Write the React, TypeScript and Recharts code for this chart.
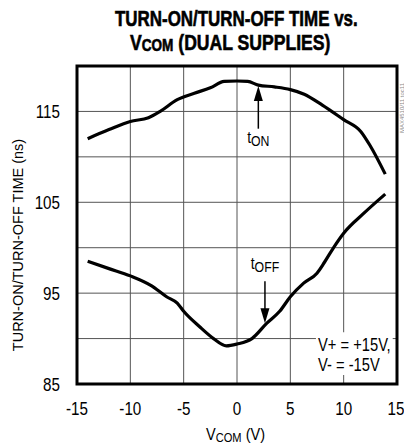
import React from 'react';
import {
  LineChart, Line, XAxis, YAxis, CartesianGrid, ReferenceArea, ReferenceLine, ReferenceDot, Customized,
} from 'recharts';

const tonX = [-14, -12, -10, -8.3, -7.2, -5.6, -4, -2.5, -1.2, 0, 1, 2, 3.5, 5, 6.3, 8, 10, 11.6, 12.5, 13.9];
const tonY = [112.0, 113.0, 113.9, 114.3, 115.0, 116.3, 117.0, 117.6, 118.3, 118.35, 118.3, 117.9, 117.7, 117.4, 116.9, 115.7, 114.1, 112.8, 111.2, 108.1];
const toffX = [-14, -12, -10, -8, -6.6, -5.6, -5, -3.5, -2.2, -1, 0, 1.4, 2.8, 4, 5, 6.25, 7.5, 8.2, 9.1, 10, 11.9, 13.9];
const toffY = [98.5, 97.7, 96.9, 95.8, 94.6, 93.9, 93.0, 91.3, 90.0, 89.2, 89.4, 90.0, 91.7, 93.0, 94.6, 96.1, 97.2, 98.4, 100.1, 101.6, 103.8, 105.9];

const xTicks = [-15, -10, -5, 0, 5, 10, 15];
const yTicks = [85, 90, 95, 100, 105, 110, 115, 120];
const yLabeled = [85, 95, 105, 115];

const tonData = tonX.map((x, i) => ({ x, y: tonY[i] }));
const toffData = toffX.map((x, i) => ({ x, y: toffY[i] }));

const FONT = '"Liberation Sans", Arial, sans-serif';

const XTick = (props: any) => {
  const { x, y, payload } = props;
  return (
    <g transform={`translate(${x},${y})`}>
      <text transform="scale(0.8,1)" textAnchor="middle" dy="0.71em" fontFamily={FONT} fontSize={19} fill="#000">
        {payload.value}
      </text>
    </g>
  );
};
const YTick = (props: any) => {
  const { x, y, payload } = props;
  if (!yLabeled.includes(payload.value)) return null;
  return (
    <g transform={`translate(${x},${y})`}>
      <text transform="scale(0.8,1)" textAnchor="end" dy="0.355em" fontFamily={FONT} fontSize={19} fill="#000">
        {payload.value}
      </text>
    </g>
  );
};

const ArrowDown = (props: any) => {
  const { cx, cy } = props;
  if (cx == null || cy == null) return null;
  return <path d={`M${cx},${cy} L${cx - 4.5},${cy - 15} L${cx + 4.5},${cy - 15} Z`} fill="#000" />;
};
const ArrowUp = (props: any) => {
  const { cx, cy } = props;
  if (cx == null || cy == null) return null;
  return <path d={`M${cx},${cy} L${cx - 4.5},${cy + 15} L${cx + 4.5},${cy + 15} Z`} fill="#000" />;
};
const SubLabel = (main: string, sub: string) => (props: any) => {
  const { cx, cy } = props;
  if (cx == null || cy == null) return null;
  return (
    <g transform={`translate(${cx},${cy})`}>
      <text transform="scale(0.82,1)" textAnchor="middle" fontFamily={FONT} fontSize={17} fill="#000">
        <tspan>{main}</tspan>
        <tspan fontSize={15} dy={3}>{sub}</tspan>
      </text>
    </g>
  );
};
const SupplyText = (props: any) => {
  const { cx, cy } = props;
  if (cx == null || cy == null) return null;
  return (
    <g transform={`translate(${cx},${cy})`}>
      <text transform="scale(0.84,1)" fontFamily={FONT} fontSize={17.5} fill="#000">
        <tspan x={0}>V+ = +15V,</tspan>
        <tspan x={0} dy={20}>V- = -15V</tspan>
      </text>
    </g>
  );
};

const Decor = () => (
  <g>
    <g transform="translate(115,26) scale(0.77,1)">
      <text x={0} y={0} fontFamily={FONT} fontWeight="bold" fontSize={22} fill="#000" stroke="#000" strokeWidth={0.6}>
        TURN-ON/TURN-OFF TIME vs.
      </text>
    </g>
    <g transform="translate(130,50) scale(0.8,1)">
      <text x={0} y={0} fontFamily={FONT} fontWeight="bold" fontSize={22} fill="#000" stroke="#000" strokeWidth={0.6}>
        <tspan>V</tspan>
        <tspan fontSize={17} dy={1}>COM</tspan>
        <tspan dy={-1}> (DUAL SUPPLIES)</tspan>
      </text>
    </g>
    <text x={18} y={245} transform="rotate(-90 18 245)" textAnchor="middle" dominantBaseline="central" fontFamily={FONT} fontSize={14.5} fill="#000">
      TURN-ON/TURN-OFF TIME (ns)
    </text>
    <g transform="translate(206,440) scale(0.855,1)">
      <text x={0} y={0} fontFamily={FONT} fontSize={17} fill="#000">
        <tspan>V</tspan>
        <tspan fontSize={13} dy={2}>COM</tspan>
        <tspan dy={-2}> (V)</tspan>
      </text>
    </g>
    <text x={402} y={108} transform="rotate(-90 402 108)" textAnchor="middle" dominantBaseline="central" fontFamily={FONT} fontSize={6} fill="#888">
      MAX4510/11 toc11
    </text>
  </g>
);

export default function App() {
  return (
    <div style={{ position: 'absolute', left: 0, top: 0, background: '#fff' }}>
      <LineChart width={404} height={448} margin={{ top: 66, right: 7, bottom: 0, left: 0 }}>
        <CartesianGrid stroke="#555" strokeWidth={1} />
        <XAxis
          type="number"
          dataKey="x"
          domain={[-15, 15]}
          ticks={xTicks}
          allowDataOverflow
          axisLine={false}
          tickLine={false}
          tickSize={6}
          tickMargin={12}
          height={64}
          tick={<XTick />}
        />
        <YAxis
          type="number"
          domain={[85, 120]}
          ticks={yTicks}
          allowDataOverflow
          axisLine={false}
          tickLine={false}
          tickSize={6}
          tickMargin={11}
          width={77}
          tick={<YTick />}
        />
        <ReferenceArea x1={7.4} x2={14.6} y1={86.0} y2={90.7} fill="#fff" fillOpacity={1} stroke="none" />
        <ReferenceArea x1={-15} x2={15} y1={85} y2={120} fill="none" stroke="#000" strokeWidth={3} />
        <Line data={tonData} dataKey="y" type="monotone" stroke="#000" strokeWidth={3.2} dot={false} isAnimationActive={false} />
        <Line data={toffData} dataKey="y" type="monotone" stroke="#000" strokeWidth={3.2} dot={false} isAnimationActive={false} />
        <ReferenceLine segment={[{ x: 2, y: 113.1 }, { x: 2, y: 116.5 }]} stroke="#000" strokeWidth={1.5} />
        <ReferenceDot x={2} y={117.8} r={0} shape={ArrowUp} />
        <ReferenceDot x={2} y={111.5} r={0} shape={SubLabel('t', 'ON')} />
        <ReferenceLine segment={[{ x: 2.62, y: 96.3 }, { x: 2.62, y: 93.0 }]} stroke="#000" strokeWidth={1.5} />
        <ReferenceDot x={2.62} y={91.7} r={0} shape={ArrowDown} />
        <ReferenceDot x={2.62} y={97.7} r={0} shape={SubLabel('t', 'OFF')} />
        <ReferenceDot x={7.6} y={88.6} r={0} shape={SupplyText} />
        <Customized component={Decor} />
      </LineChart>
    </div>
  );
}
